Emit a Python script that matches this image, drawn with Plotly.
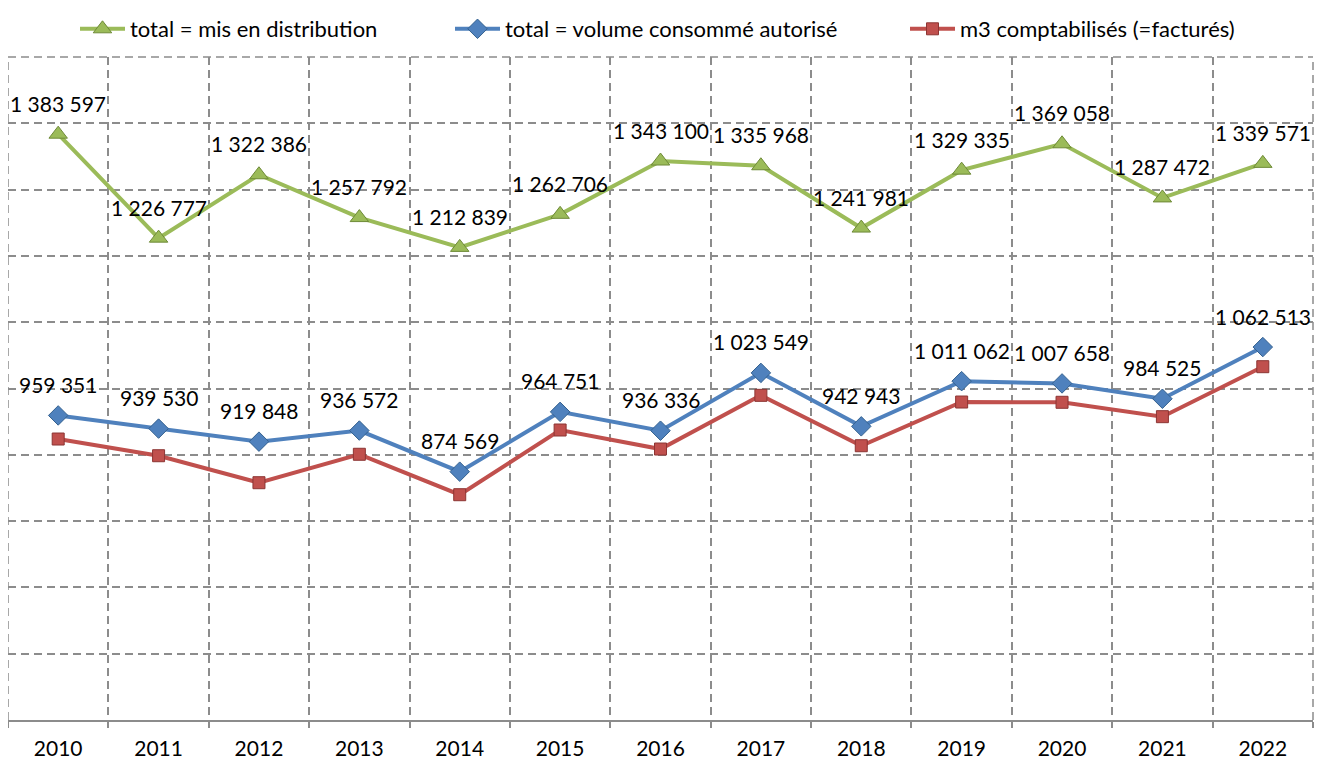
import plotly.graph_objects as go

years = ["2010", "2011", "2012", "2013", "2014", "2015", "2016", "2017", "2018", "2019", "2020", "2021", "2022"]
mis_en_distribution = [1383597, 1226777, 1322386, 1257792, 1212839, 1262706, 1343100, 1335968, 1241981, 1329335, 1369058, 1287472, 1339571]
volume_consomme = [959351, 939530, 919848, 936572, 874569, 964751, 936336, 1023549, 942943, 1011062, 1007658, 984525, 1062513]
m3_factures = [923800, 898600, 857900, 900800, 839800, 937400, 908700, 989700, 913700, 979600, 979200, 957500, 1032900]

names = ["total = mis en distribution", "total = volume consommé autorisé", "m3 comptabilisés (=facturés)"]

def fmt(v):
    return f"{v:,}".replace(",", " ")

FONT = "Lato, Open Sans, sans-serif"
W, H = 1319, 759  # page body has an 8px margin
GRID = "#8C8C8C"

fig = go.Figure()
fig.add_trace(go.Scatter(
    x=years, y=mis_en_distribution, name=names[0], mode="lines+markers", legend="legend",
    line=dict(color="#9BBB59", width=4),
    marker=dict(symbol="triangle-up", size=16, color="#9BBB59", line=dict(color="#6E8A37", width=1)),
))
fig.add_trace(go.Scatter(
    x=years, y=volume_consomme, name=names[1], mode="lines+markers", legend="legend2",
    line=dict(color="#4F81BD", width=4),
    marker=dict(symbol="diamond", size=15, color="#4F81BD", line=dict(color="#34618F", width=1)),
))
fig.add_trace(go.Scatter(
    x=years, y=m3_factures, name=names[2], mode="lines+markers", legend="legend3",
    line=dict(color="#C0504D", width=4),
    marker=dict(symbol="square", size=12, color="#C0504D", line=dict(color="#8C3533", width=1)),
))

annotations = []
for series in (mis_en_distribution, volume_consomme):
    for i, v in enumerate(series):
        annotations.append(dict(
            x=i, y=v, xref="x", yref="y", text=fmt(v), showarrow=False,
            yshift=31, font=dict(family=FONT, size=21, color="#000000"),
        ))

def legend_at(px):
    return dict(orientation="h", xref="container", yref="container",
                x=px / W, xanchor="left", y=1, yanchor="top",
                font=dict(family=FONT, size=22, color="#000000"),
                itemwidth=45, bgcolor="rgba(0,0,0,0)", borderwidth=0)

shapes = [
    dict(type="line", xref="paper", yref="paper", x0=0, x1=0, y0=0, y1=1,
         line=dict(color=GRID, width=1.5, dash="8px,5px")),
    dict(type="line", xref="paper", yref="paper", x0=1, x1=1, y0=0, y1=1,
         line=dict(color=GRID, width=1.5, dash="8px,5px")),
    dict(type="line", xref="paper", yref="paper", x0=0, x1=1, y0=1, y1=1,
         line=dict(color=GRID, width=1.5, dash="8px,5px")),
]

fig.update_layout(
    width=W, height=H,
    margin=dict(l=0, r=14, t=49, b=47, autoexpand=False),
    paper_bgcolor="white", plot_bgcolor="white",
    font=dict(family=FONT, size=21, color="#000000"),
    showlegend=True,
    legend=legend_at(67),
    legend2=legend_at(442),
    legend3=legend_at(897),
    annotations=annotations,
    shapes=shapes,
)
fig.update_xaxes(
    type="category", tickson="boundaries", showgrid=True,
    gridcolor=GRID, gridwidth=1.5, griddash="8px,5px",
    showline=True, linecolor=GRID, linewidth=1.5,
    ticks="outside", ticklen=6, tickcolor=GRID, tickwidth=1.5,
    tickfont=dict(family=FONT, size=21, color="#000000"),
    ticklabelstandoff=9, automargin=False,
    range=[-0.5, 12.5], zeroline=False,
)
fig.update_yaxes(
    range=[500000, 1500000], dtick=100000, tick0=500000,
    showticklabels=False, showgrid=True, automargin=False,
    gridcolor=GRID, gridwidth=1.5, griddash="8px,5px",
    zeroline=False, showline=False, ticks="",
)

fig.write_html("out.html")
